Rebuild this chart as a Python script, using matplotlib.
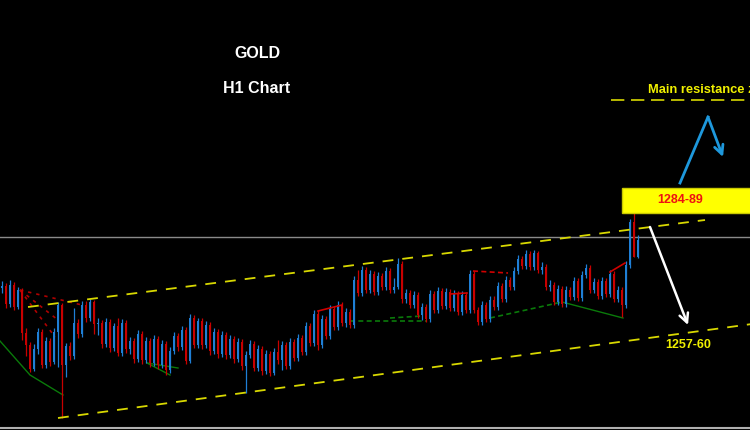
import matplotlib
matplotlib.use('Agg')
import matplotlib.pyplot as plt
from matplotlib.patches import Rectangle

# hourly candles (price), open of each bar = previous close
first_open = 1269.0
closes = [
    1269.4, 1265.8, 1269.6, 1265.2, 1268.6, 1260.0, 1257.6, 1252.8, 1256.8, 1260.2,
    1253.6, 1258.4, 1254.2, 1260.2, 1265.6, 1253.6, 1257.4, 1255.4, 1262.0, 1259.8,
    1265.6, 1263.0, 1266.2, 1261.8, 1262.0, 1257.8, 1262.2, 1257.0, 1261.4, 1256.0,
    1262.0, 1256.8, 1258.4, 1254.8, 1259.8, 1254.6, 1258.4, 1254.0, 1258.8, 1253.6,
    1257.8, 1252.6, 1256.4, 1259.4, 1257.2, 1260.6, 1254.4, 1263.0, 1257.6, 1262.4,
    1257.6, 1261.6, 1256.4, 1260.2, 1255.8, 1259.6, 1255.6, 1258.8, 1254.8, 1258.2,
    1253.4, 1255.6, 1257.8, 1253.0, 1256.8, 1252.4, 1255.8, 1252.0, 1256.2, 1254.6,
    1257.6, 1253.4, 1258.2, 1255.0, 1259.0, 1256.2, 1261.4, 1258.0, 1263.8, 1257.6,
    1262.8, 1259.4, 1264.8, 1261.2, 1265.6, 1262.0, 1264.2, 1261.6, 1270.6, 1268.0,
    1272.6, 1268.6, 1271.8, 1268.2, 1271.4, 1269.2, 1272.4, 1268.6, 1269.2, 1273.8,
    1266.8, 1268.0, 1265.6, 1267.6, 1263.6, 1265.2, 1262.8, 1267.8, 1264.6, 1268.4,
    1265.4, 1268.2, 1265.0, 1267.8, 1264.2, 1267.6, 1264.6, 1271.8, 1264.6, 1262.2,
    1265.6, 1262.8, 1266.6, 1265.2, 1269.4, 1266.8, 1270.6, 1269.2, 1272.4, 1274.8,
    1273.4, 1275.8, 1273.2, 1276.0, 1272.6, 1273.2, 1269.2, 1269.6, 1266.2, 1268.8,
    1265.8, 1268.6, 1267.2, 1270.4, 1267.0, 1271.6, 1273.0, 1268.6, 1270.2, 1267.4,
    1270.4, 1267.8, 1271.8, 1266.8, 1268.6, 1265.6, 1273.6, 1282.2, 1275.2, 1278.6,
]
highs = [
    1270.4, 1270.0, 1270.6, 1270.2, 1269.2, 1269.0, 1261.0, 1258.2, 1257.8, 1261.0,
    1260.8, 1259.2, 1259.0, 1261.0, 1266.2, 1266.0, 1258.0, 1258.2, 1265.0, 1262.8,
    1266.4, 1266.4, 1266.8, 1266.6, 1263.0, 1262.6, 1263.0, 1262.8, 1262.0, 1263.0,
    1262.8, 1262.6, 1259.2, 1259.0, 1260.6, 1260.4, 1259.2, 1259.0, 1259.6, 1259.4,
    1258.6, 1258.4, 1257.2, 1260.2, 1260.0, 1261.4, 1261.2, 1263.8, 1263.6, 1263.0,
    1263.0, 1262.4, 1262.2, 1261.0, 1260.8, 1260.4, 1260.2, 1259.6, 1259.4, 1259.0,
    1258.8, 1256.4, 1258.6, 1258.4, 1257.6, 1257.4, 1256.6, 1256.4, 1257.0, 1258.6,
    1258.4, 1258.2, 1259.0, 1258.8, 1259.8, 1259.6, 1262.2, 1262.0, 1264.6, 1264.6,
    1263.6, 1263.4, 1265.6, 1265.4, 1266.4, 1266.2, 1265.0, 1264.8, 1271.4, 1272.6,
    1273.4, 1273.2, 1272.6, 1272.4, 1272.2, 1272.0, 1273.2, 1273.0, 1271.0, 1275.0,
    1274.4, 1268.8, 1268.6, 1268.4, 1268.2, 1266.0, 1265.8, 1268.6, 1268.4, 1269.2,
    1269.0, 1269.0, 1268.8, 1268.6, 1268.4, 1268.4, 1268.2, 1272.6, 1272.4, 1265.2,
    1266.4, 1266.2, 1267.4, 1267.4, 1270.2, 1270.0, 1271.4, 1271.2, 1273.2, 1275.6,
    1275.4, 1276.6, 1276.4, 1276.6, 1276.4, 1274.2, 1273.8, 1270.6, 1270.2, 1269.6,
    1269.4, 1269.4, 1269.2, 1271.2, 1271.0, 1272.4, 1273.8, 1273.6, 1271.0, 1270.8,
    1271.2, 1271.0, 1272.6, 1272.4, 1269.4, 1269.2, 1274.4, 1282.8, 1284.6, 1279.6,
]
lows = [
    1268.0, 1265.0, 1265.2, 1264.6, 1264.8, 1258.6, 1255.4, 1252.2, 1252.4, 1255.8,
    1253.0, 1253.0, 1253.4, 1253.8, 1253.2, 1243.0, 1251.2, 1254.6, 1254.8, 1259.0,
    1259.2, 1262.2, 1262.4, 1259.8, 1259.6, 1257.0, 1257.2, 1256.2, 1256.4, 1255.4,
    1255.4, 1256.0, 1255.8, 1254.0, 1254.2, 1253.8, 1254.0, 1253.2, 1253.4, 1252.8,
    1253.0, 1251.6, 1252.0, 1255.8, 1256.4, 1256.6, 1253.8, 1254.0, 1257.0, 1257.0,
    1256.8, 1257.0, 1255.6, 1255.8, 1255.0, 1255.2, 1254.8, 1255.0, 1254.0, 1254.2,
    1252.6, 1248.0, 1255.0, 1252.4, 1252.4, 1251.6, 1251.8, 1251.4, 1251.6, 1253.8,
    1252.6, 1252.8, 1252.8, 1254.4, 1254.4, 1255.6, 1255.6, 1257.4, 1257.4, 1256.6,
    1257.0, 1258.8, 1258.8, 1260.6, 1260.6, 1261.4, 1261.2, 1261.0, 1261.0, 1267.4,
    1267.4, 1268.0, 1268.0, 1267.6, 1267.6, 1268.6, 1268.6, 1268.0, 1268.0, 1268.8,
    1266.0, 1266.0, 1265.0, 1265.0, 1263.0, 1262.6, 1262.2, 1262.2, 1264.0, 1264.0,
    1264.8, 1264.8, 1264.4, 1264.4, 1263.6, 1263.6, 1264.0, 1264.0, 1264.0, 1261.6,
    1261.6, 1262.2, 1262.2, 1264.6, 1264.6, 1266.2, 1266.2, 1268.6, 1268.6, 1271.8,
    1272.8, 1272.8, 1272.6, 1272.6, 1272.0, 1271.8, 1268.6, 1268.4, 1265.6, 1265.6,
    1265.2, 1265.2, 1266.6, 1266.6, 1266.4, 1266.4, 1271.0, 1268.0, 1268.0, 1266.8,
    1266.8, 1267.2, 1267.2, 1266.2, 1266.2, 1263.2, 1265.0, 1273.0, 1275.2, 1275.0,
]
opens = [first_open] + closes[:-1]

# channel lines (bar index, price)
upper_x = [6.5, 175.75]
upper_p = [1265.2, 1282.6]
lower_x = [14, 187.5]
lower_p = [1243.0, 1261.8]

current_price = 1279.2
bottom_price = 1241.0
resist_x = [152.25, 187.5]
resist_p = 1306.6
zone_x = [155, 187.5]
zone_p = [1284, 1289]
target_p = 1257.6

# zigzag helper lines (bar index, price)
fan_start = (4.5, 1268.6)
fan_ends = [(20, 1265.6), (14, 1262.6), (13.25, 1259.2)]
green_solid = [
    ([-0.5, 7, 15.25], [1258.4, 1251.6, 1247.6]),
    ([36.25, 42], [1254.0, 1251.6]),
    ([36.25, 44], [1254.0, 1253.0]),
    ([140, 155.25], [1266.2, 1263.0]),
]
green_dashed = [
    ([87, 106.25], [1262.4, 1262.4]),
    ([97, 105], [1263.0, 1263.4]),
    ([122, 140], [1263.0, 1266.2]),
]
red_solid = [
    ([79, 85], [1264.4, 1265.6]),
    ([112, 116.25], [1267.8, 1268.0]),
    ([152, 155.75], [1272.2, 1274.0]),
]
red_dashed = [
    ([117.75, 126.5], [1272.4, 1272.0]),
]

# scenario arrows
up_path_x = [169.5, 176.5, 180.25]
up_path_p = [1290.0, 1303.2, 1295.2]
down_x = [162, 171.5]
down_p = [1281.2, 1261.6]

fig = plt.figure(figsize=(7.5, 4.3), dpi=100, facecolor='black')
ax = fig.add_axes([0, 0, 1, 1])
ax.set_facecolor('black')
ax.set_xlim(-0.5, 187.0)
ax.set_ylim(1240.6, 1326.6)
ax.axis('off')

up_col = '#1f7fd6'
dn_col = '#c80000'
idx = list(range(len(closes)))
cols = [up_col if c >= o else dn_col for o, c in zip(opens, closes)]
ax.vlines(idx, lows, highs, colors=cols, linewidth=0.9, zorder=3)
bottoms = [min(o, c) for o, c in zip(opens, closes)]
heights = [max(abs(c - o), 0.2) for o, c in zip(opens, closes)]
ax.bar(idx, heights, bottom=bottoms, width=0.55, color=cols, linewidth=0, zorder=3)

# zigzag lines
for ex, ep in fan_ends:
    ax.plot([fan_start[0], ex], [fan_start[1], ep], color='#b00000', lw=1.2,
            ls=(0, (2, 3)), zorder=2)
for xs, ps in green_solid:
    ax.plot(xs, ps, color='#0a7a0a', lw=1.0, zorder=2)
for xs, ps in green_dashed:
    ax.plot(xs, ps, color='#0a7a0a', lw=1.2, ls=(0, (3, 2)), zorder=2)
for xs, ps in red_solid:
    ax.plot(xs, ps, color='#d00000', lw=1.2, zorder=4)
for xs, ps in red_dashed:
    ax.plot(xs, ps, color='#d00000', lw=1.2, ls=(0, (3, 2)), zorder=4)

# channel
chan_col = '#d8d800'
ax.plot(upper_x, upper_p, color=chan_col, lw=1.3, ls=(0, (6, 5)), zorder=5)
ax.plot(lower_x, lower_p, color=chan_col, lw=1.3, ls=(0, (6, 5)), zorder=5)

ax.axhline(current_price, color='#8a8a8a', lw=1.0, zorder=1)
ax.axhline(bottom_price, color='#b0b0b0', lw=1.5, zorder=1)

# resistance (label runs off the right edge as in the source screenshot)
ax.plot(resist_x, [resist_p, resist_p], color=chan_col, lw=1.2, ls=(0, (8, 4)), zorder=5)
ax.text(161.5, resist_p + 2.0, 'Main resistance zone', color='#f0f000', fontsize=9.3,
        fontweight='bold', family='Liberation Sans', va='center', ha='left', clip_on=True)

ax.add_patch(Rectangle((zone_x[0], zone_p[0]), zone_x[1] - zone_x[0], zone_p[1] - zone_p[0],
                       facecolor='#ffff00', edgecolor='#c8c800', lw=1.0, zorder=6))
ax.text(169.5, sum(zone_p) / 2, '1284-89', color='#ee1111', fontsize=9,
        fontweight='bold', family='Liberation Sans', ha='center', va='center', zorder=7)

ax.text(171.5, target_p, '1257-60', color='#f0f000', fontsize=9,
        fontweight='bold', family='Liberation Sans', ha='center', va='center', zorder=7)

# arrows
ax.plot(up_path_x[:2], up_path_p[:2], color='#1e98dc', lw=2.0, zorder=6)
ax.annotate('', xy=(up_path_x[2], up_path_p[2]), xytext=(up_path_x[1], up_path_p[1]),
            arrowprops=dict(arrowstyle='->', color='#1e98dc', lw=2.0, mutation_scale=16,
                            shrinkA=0, shrinkB=0), zorder=6)
ax.annotate('', xy=(down_x[1], down_p[1]), xytext=(down_x[0], down_p[0]),
            arrowprops=dict(arrowstyle='->', color='white', lw=1.8, mutation_scale=16,
                            shrinkA=0, shrinkB=0), zorder=6)

ax.text(63.75, 1315.8, 'GOLD', color='white', fontsize=11.5, fontweight='bold',
        family='Liberation Sans', ha='center', va='center')
ax.text(63.75, 1308.8, 'H1 Chart', color='white', fontsize=11.5, fontweight='bold',
        family='Liberation Sans', ha='center', va='center')

fig.savefig('out.png', dpi=100, facecolor='black')
